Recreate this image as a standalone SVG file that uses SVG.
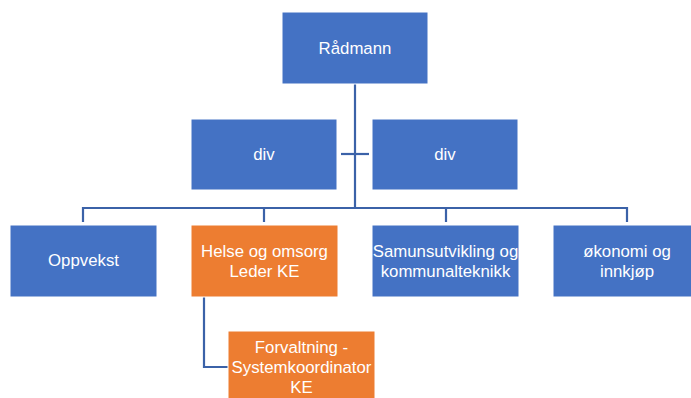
<svg xmlns="http://www.w3.org/2000/svg" width="691" height="398" viewBox="0 0 691 398">
<style>
.b{fill:#4472C4;stroke:#FFFFFF;stroke-width:1}
.o{fill:#ED7D31;stroke:#FFFFFF;stroke-width:1}
.t{font-family:"Liberation Sans",Arial,sans-serif;font-size:16.8px;fill:#FFFFFF;text-anchor:middle}
.c{fill:none;stroke:#3B62A8;stroke-width:2.2}
</style>
<rect width="691" height="398" fill="#FFFFFF"/>
<g id="connectors">
<path class="c" d="M355 84V208"/>
<path class="c" d="M341 154H369"/>
<path class="c" d="M83 222V208H627V222"/>
<path class="c" d="M264 208V222"/>
<path class="c" d="M446 208V222"/>
<path class="c" d="M204 297V367H228"/>
</g>
<g id="radmann"><rect class="b" x="282" y="12" width="146" height="72"/><text class="t" x="355" y="54">Rådmann</text></g>
<g id="div1"><rect class="b" x="191" y="119" width="146" height="71"/><text class="t" x="264" y="160">div</text></g>
<g id="div2"><rect class="b" x="372" y="119" width="146" height="71"/><text class="t" x="445" y="160">div</text></g>
<g id="oppvekst"><rect class="b" x="10" y="225" width="147" height="72"/><text class="t" x="83.5" y="266">Oppvekst</text></g>
<g id="helse"><rect class="o" x="191" y="225" width="147" height="72"/><text class="t" x="264.5" y="257">Helse og omsorg</text><text class="t" x="264.5" y="277">Leder KE</text></g>
<g id="samun"><rect class="b" x="372" y="225" width="147" height="72"/><text class="t" x="445.5" y="257">Samunsutvikling og</text><text class="t" x="445.5" y="277">kommunalteknikk</text></g>
<g id="okonomi"><rect class="b" x="553" y="225" width="147" height="72"/><text class="t" x="627" y="257">økonomi og</text><text class="t" x="627" y="277">innkjøp</text></g>
<g id="forvaltning"><rect class="o" x="228" y="331" width="147" height="72"/><text class="t" x="301.5" y="353">Forvaltning -</text><text class="t" x="301.5" y="373">Systemkoordinator</text><text class="t" x="301.5" y="393">KE</text></g>
</svg>
